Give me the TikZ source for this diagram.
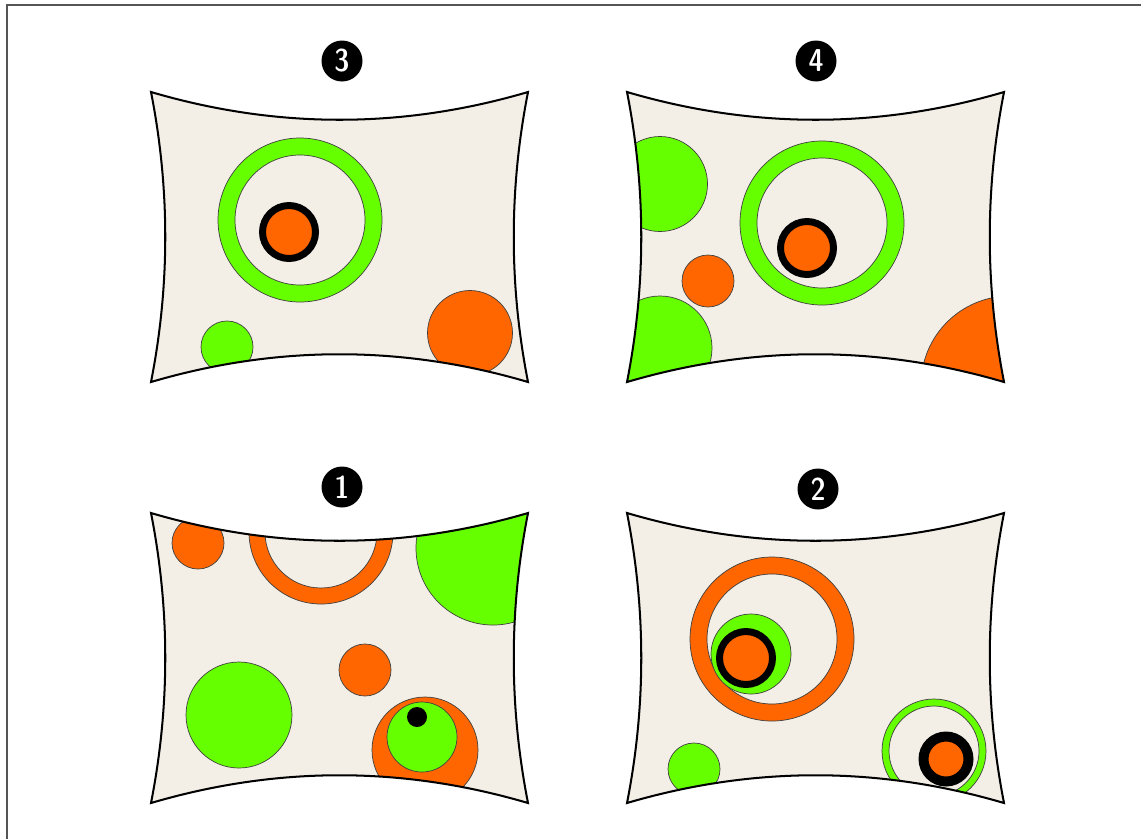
\documentclass[tikz,border=0pt]{standalone}
\usepackage{tikz}
\definecolor{panelbg}{HTML}{F3EFE6}
\definecolor{limefill}{HTML}{66FF00}
\definecolor{orangefill}{HTML}{FF6600}
\definecolor{framegray}{HTML}{555555}
% concave panel outline, top left corner at #1,#2 (pixel units)
\newcommand{\panelpath}[2]{(#1,#2)
  .. controls +(125.7,37) and +(-125.7,37) .. ++(377,0)
  .. controls +(-19,96.7) and +(-19,-96.7) .. ++(0,290)
  .. controls +(-125.7,-37) and +(125.7,-37) .. ++(-377,0)
  .. controls +(19,-96.7) and +(19,96.7) .. ++(0,-290) -- cycle}

\begin{document}
\begin{tikzpicture}[x=0.02cm,y=-0.02cm,
  panel/.style={draw=black,line width=1.15pt},
  lime/.style={fill=limefill,draw=black!75,line width=0.4pt},
  tang/.style={fill=orangefill,draw=black!75,line width=0.4pt},
  ring/.style={even odd rule},
  eye/.style={fill=orangefill,draw=black,line width=#1},
  badge/.style={circle,fill=black,text=white,inner sep=0pt,minimum size=0.82cm,
    font=\fontsize{18}{18}\fontseries{sbc}\sffamily\selectfont}]
  \useasboundingbox (0,0) rectangle (1141,839);
  \draw[framegray,line width=1.1pt] (7,839) -- (7,5) -- (1141,5);

  % panel 3
  \begin{scope}
    \clip \panelpath{151}{92};
    \fill[panelbg] (151,92) rectangle (528,382);
    \path[lime,ring] (300,220) circle (82) (300,220) circle (65);
    \path[eye=3.97pt] (289,232) circle (26.5);
    \path[lime] (227,347) circle (26);
    \path[tang] (470,333) circle (42.5);
  \end{scope}
  \draw[panel] \panelpath{151}{92};
  \node[badge] (n3) at (342,61) {3};

  % panel 4
  \begin{scope}
    \clip \panelpath{627}{92};
    \fill[panelbg] (627,92) rectangle (1004,382);
    \path[lime] (660,184) circle (47.5);
    \path[lime,ring] (822,223) circle (82) (822,223) circle (65);
    \path[eye=3.97pt] (807,248) circle (26.5);
    \path[tang] (708,281) circle (26);
    \path[lime] (660,348) circle (52);
    \path[tang] (1010,385) circle (89);
  \end{scope}
  \draw[panel] \panelpath{627}{92};
  \node[badge] (n4) at (816,61) {4};

  % panel 1
  \begin{scope}
    \clip \panelpath{151}{513};
    \fill[panelbg] (151,513) rectangle (528,803);
    \path[tang] (198,543) circle (26);
    \path[tang,ring] (321,532) circle (72) (321,532) circle (56);
    \path[lime] (493,548) circle (77);
    \path[tang] (365,670) circle (26);
    \path[lime] (239,715) circle (53);
    \path[tang] (425,750) circle (53);
    \path[lime] (422,737) circle (35);
    \fill[black] (417,717) circle (10);
  \end{scope}
  \draw[panel] \panelpath{151}{513};
  \node[badge] (n1) at (342,487) {1};

  % panel 2
  \begin{scope}
    \clip \panelpath{627}{513};
    \fill[panelbg] (627,513) rectangle (1004,803);
    \path[tang,ring] (772,639) circle (82) (772,639) circle (65);
    \path[lime] (751,654) circle (40);
    \path[eye=3.97pt] (746,658) circle (26.5);
    \path[lime] (694,769) circle (26);
    \path[lime,ring] (934,751) circle (52) (934,751) circle (45);
    \path[eye=5.67pt] (946,759) circle (22.5);
  \end{scope}
  \draw[panel] \panelpath{627}{513};
  \node[badge] (n2) at (818,489) {2};
\end{tikzpicture}
\end{document}
